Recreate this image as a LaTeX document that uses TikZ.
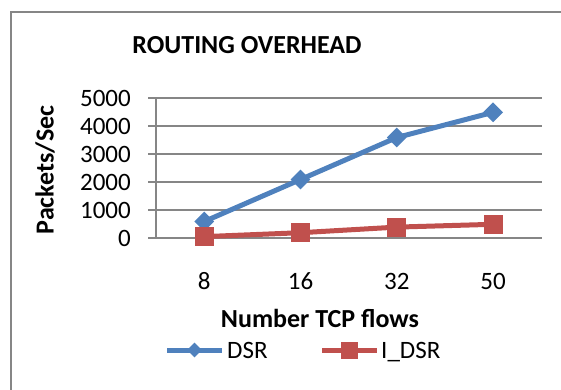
\documentclass[tikz,border=0pt]{standalone}
\usepackage{fontspec}
\setmainfont{Carlito}
\usetikzlibrary{shapes.geometric}
\definecolor{dsrblue}{RGB}{79,129,189}
\definecolor{idsrred}{RGB}{192,80,77}
\definecolor{gridgray}{RGB}{134,134,134}

\begin{document}
\begin{tikzpicture}[x=1pt,y=-1pt,
  lbl/.style={font=\fontsize{25}{30}\selectfont, inner sep=0pt},
  ttl/.style={font=\fontsize{26}{31}\selectfont\bfseries, inner sep=0pt},
  gridln/.style={draw=gridgray, line width=2pt},
  dsrline/.style={draw=dsrblue, line width=5pt, line join=round},
  idsrline/.style={draw=idsrred, line width=5pt, line join=round},
  dsrmark/.style={diamond, fill=dsrblue, minimum size=20pt, inner sep=0pt},
  idsrmark/.style={rectangle, fill=idsrred, minimum size=19pt, inner sep=0pt}]

\useasboundingbox (0,0) rectangle (561,389);
\clip (0,0) rectangle (561,389);

% chart frame (runs past the right and bottom edges)
\draw[gridgray, line width=2pt] (11,12) rectangle (620,440);

% horizontal gridlines and value labels
\foreach \v/\t in {0/0,1/1000,2/2000,3/3000,4/4000,5/5000}{
  \draw[gridln] (148,{238.3-28*\v}) -- (542,{238.3-28*\v});
  \node[lbl, anchor=east] (ylab\v) at (131,{238.3-28*\v}) {\t};
}
% value axis
\coordinate (axtop) at (156,98.3);
\coordinate (axbot) at (156,238.3);
\draw[gridln] (axtop) -- (axbot);

% category labels
\foreach \i/\x/\t in {1/204.2/8,2/300.5/16,3/396.8/32,4/493.1/50}{
  \node[lbl] (xlab\i) at (\x,281) {\t};
}

% DSR series
\coordinate (d1) at (204.2,{238.3-0.028*600});
\coordinate (d2) at (300.5,{238.3-0.028*2100});
\coordinate (d3) at (396.8,{238.3-0.028*3600});
\coordinate (d4) at (493.1,{238.3-0.028*4500});
\draw[dsrline] (d1) -- (d2) -- (d3) -- (d4);
\foreach \p in {d1,d2,d3,d4}{\node[dsrmark] (m\p) at (\p) {};}

% I_DSR series
\coordinate (r1) at (204.2,{238.3-0.028*60});
\coordinate (r2) at (300.5,{238.3-0.028*200});
\coordinate (r3) at (396.8,{238.3-0.028*400});
\coordinate (r4) at (493.1,{238.3-0.028*500});
\draw[idsrline] (r1) -- (r2) -- (r3) -- (r4);
\foreach \p in {r1,r2,r3,r4}{\node[idsrmark] (m\p) at (\p) {};}

% titles
\node[ttl] (title) at (247,45) {ROUTING OVERHEAD};
\node[ttl, rotate=90] (ytitle) at (45,170) {Packets/Sec};
\node[ttl] (xtitle) at (320,318) {Number TCP flows};

% legend
\coordinate (la) at (167,350);
\coordinate (lb) at (222,350);
\draw[dsrline] (la) -- (lb);
\node[dsrmark, minimum size=15pt] (lgdsr) at (194.5,350) {};
\node[lbl, anchor=base west] (lgdsrtext) at (227,358.5) {DSR};
\coordinate (lc) at (322,350);
\coordinate (ld) at (377,350);
\draw[idsrline] (lc) -- (ld);
\node[idsrmark, minimum size=17pt] (lgidsr) at (349.5,350) {};
\node[lbl, anchor=base west] (lgidsrtext) at (381,358.5) {I\_DSR};
\end{tikzpicture}
\end{document}
